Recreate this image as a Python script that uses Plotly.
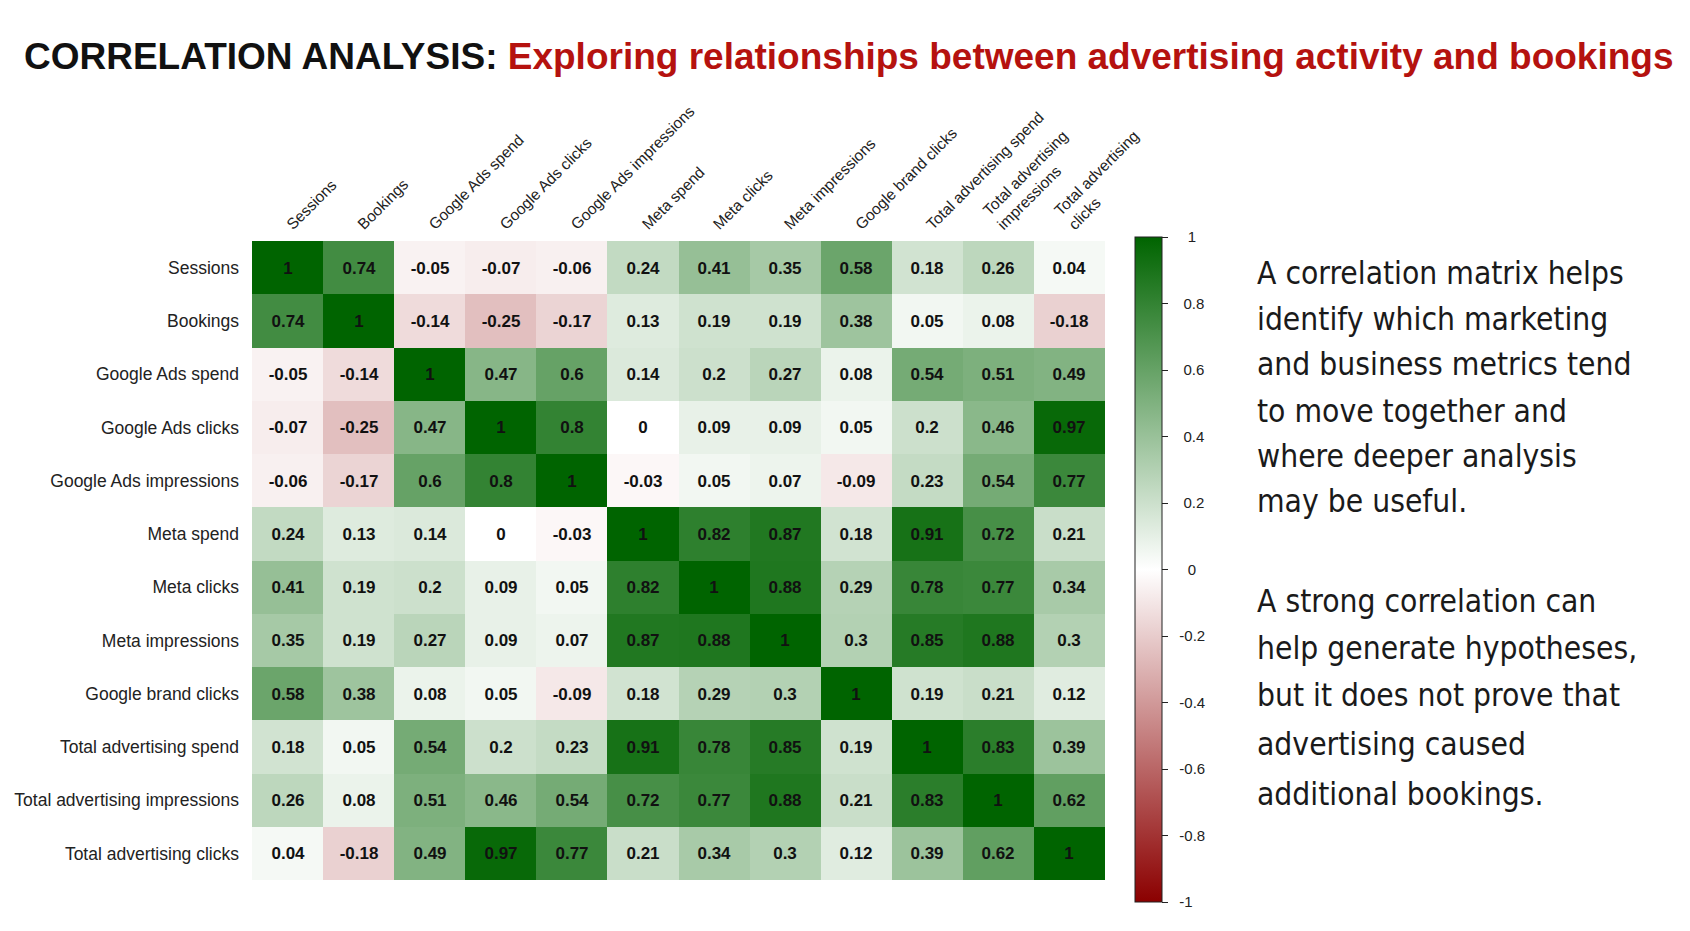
import plotly.graph_objects as go

# correlation matrix
metrics = [
    "Sessions",
    "Bookings",
    "Google Ads spend",
    "Google Ads clicks",
    "Google Ads impressions",
    "Meta spend",
    "Meta clicks",
    "Meta impressions",
    "Google brand clicks",
    "Total advertising spend",
    "Total advertising impressions",
    "Total advertising clicks",
]
column_labels = [
    "Sessions",
    "Bookings",
    "Google Ads spend",
    "Google Ads clicks",
    "Google Ads impressions",
    "Meta spend",
    "Meta clicks",
    "Meta impressions",
    "Google brand clicks",
    "Total advertising spend",
    "Total advertising<br>impressions",
    "Total advertising<br>clicks",
]
corr = [
    [1, 0.74, -0.05, -0.07, -0.06, 0.24, 0.41, 0.35, 0.58, 0.18, 0.26, 0.04],
    [0.74, 1, -0.14, -0.25, -0.17, 0.13, 0.19, 0.19, 0.38, 0.05, 0.08, -0.18],
    [-0.05, -0.14, 1, 0.47, 0.6, 0.14, 0.2, 0.27, 0.08, 0.54, 0.51, 0.49],
    [-0.07, -0.25, 0.47, 1, 0.8, 0, 0.09, 0.09, 0.05, 0.2, 0.46, 0.97],
    [-0.06, -0.17, 0.6, 0.8, 1, -0.03, 0.05, 0.07, -0.09, 0.23, 0.54, 0.77],
    [0.24, 0.13, 0.14, 0, -0.03, 1, 0.82, 0.87, 0.18, 0.91, 0.72, 0.21],
    [0.41, 0.19, 0.2, 0.09, 0.05, 0.82, 1, 0.88, 0.29, 0.78, 0.77, 0.34],
    [0.35, 0.19, 0.27, 0.09, 0.07, 0.87, 0.88, 1, 0.3, 0.85, 0.88, 0.3],
    [0.58, 0.38, 0.08, 0.05, -0.09, 0.18, 0.29, 0.3, 1, 0.19, 0.21, 0.12],
    [0.18, 0.05, 0.54, 0.2, 0.23, 0.91, 0.78, 0.85, 0.19, 1, 0.83, 0.39],
    [0.26, 0.08, 0.51, 0.46, 0.54, 0.72, 0.77, 0.88, 0.21, 0.83, 1, 0.62],
    [0.04, -0.18, 0.49, 0.97, 0.77, 0.21, 0.34, 0.3, 0.12, 0.39, 0.62, 1],
]
colorbar_ticks = [1, 0.8, 0.6, 0.4, 0.2, 0, -0.2, -0.4, -0.6, -0.8, -1]

title_lead = "CORRELATION ANALYSIS:"
title_rest = "Exploring relationships between advertising activity and bookings"
note_lines = [
    "A correlation matrix helps",
    "identify which marketing",
    "and business metrics tend",
    "to move together and",
    "where deeper analysis",
    "may be useful.",
    "",
    "A strong correlation can",
    "help generate hypotheses,",
    "but it does not prove that",
    "advertising caused",
    "additional bookings.",
]

W, H = 1690, 931
# the page body adds an 8px margin, so place things 8px up/left of where they should land
PAGE = 8
PLOT_L, PLOT_R, PLOT_T, PLOT_B = 252 - PAGE, 1105 - PAGE, 241 - PAGE, 880 - PAGE


def px_x(x):
    return (x - PAGE - PLOT_L) / (PLOT_R - PLOT_L)


def px_y(y):
    return (PLOT_B - (y - PAGE)) / (PLOT_B - PLOT_T)


def bar_label(v):
    # plain hyphen minus and a little padding so labels sit centred off the bar
    s = f"{v:g}"
    pad = 2 if s.startswith("-") else (4 if len(s) == 1 else 3)
    return "\u00a0" * pad + s


fig = go.Figure(
    go.Heatmap(
        z=corr,
        x=column_labels,
        y=metrics,
        zmin=-1,
        zmax=1,
        colorscale=[[0, "#8b0000"], [0.5, "#ffffff"], [1, "#006400"]],
        text=corr,
        texttemplate="%{text}",
        textfont={"family": "Liberation Sans", "size": 17, "color": "#111111", "weight": "bold"},
        colorbar={
            "x": px_x(1135),
            "xanchor": "left",
            "xpad": 0,
            "y": px_y(237),
            "yanchor": "top",
            "ypad": 0,
            "len": (902 - 237) / (PLOT_B - PLOT_T),
            "thickness": 27,
            "outlinewidth": 1,
            "outlinecolor": "#222222",
            "tickvals": colorbar_ticks,
            "ticktext": [bar_label(v) for v in colorbar_ticks],
            "ticks": "outside",
            "ticklen": 6,
            "tickcolor": "#222222",
            "tickfont": {"family": "Liberation Sans", "size": 15, "color": "#222222"},
        },
    )
)

fig.update_xaxes(
    side="top",
    tickangle=-45,
    showgrid=False,
    zeroline=False,
    automargin=False,
    ticks="",
    ticklabelstandoff=4,
    tickfont={"family": "Liberation Sans", "size": 15.5, "color": "#222222"},
)
fig.update_yaxes(
    autorange="reversed",
    showgrid=False,
    zeroline=False,
    automargin=False,
    ticks="",
    ticklabelstandoff=12,
    tickfont={"family": "Liberation Sans", "size": 17.5, "color": "#222222"},
)

fig.add_annotation(
    text=(
        f"<span style='color:#111111'>{title_lead}</span> "
        f"<span style='color:#b5120f'>{title_rest}</span>"
    ),
    xref="paper",
    yref="paper",
    x=px_x(22),
    y=px_y(56),
    xanchor="left",
    yanchor="middle",
    showarrow=False,
    font={"family": "Liberation Sans", "size": 37, "weight": "bold"},
)

line_y = [273, 319, 364, 411, 456, 501, 0, 601, 648, 695, 744, 794]
for line, y in zip(note_lines, line_y):
    if not line:
        continue
    fig.add_annotation(
        text=line,
        xref="paper",
        yref="paper",
        x=px_x(1255),
        y=px_y(y),
        xanchor="left",
        yanchor="middle",
        showarrow=False,
        font={"family": "DejaVu Sans Condensed", "size": 31.5, "color": "#1a1a1a"},
    )

fig.update_layout(
    width=W,
    height=H,
    margin={"l": PLOT_L, "r": W - PLOT_R, "t": PLOT_T, "b": H - PLOT_B, "autoexpand": False},
    paper_bgcolor="white",
    plot_bgcolor="white",
)

fig.write_html("out.html")
